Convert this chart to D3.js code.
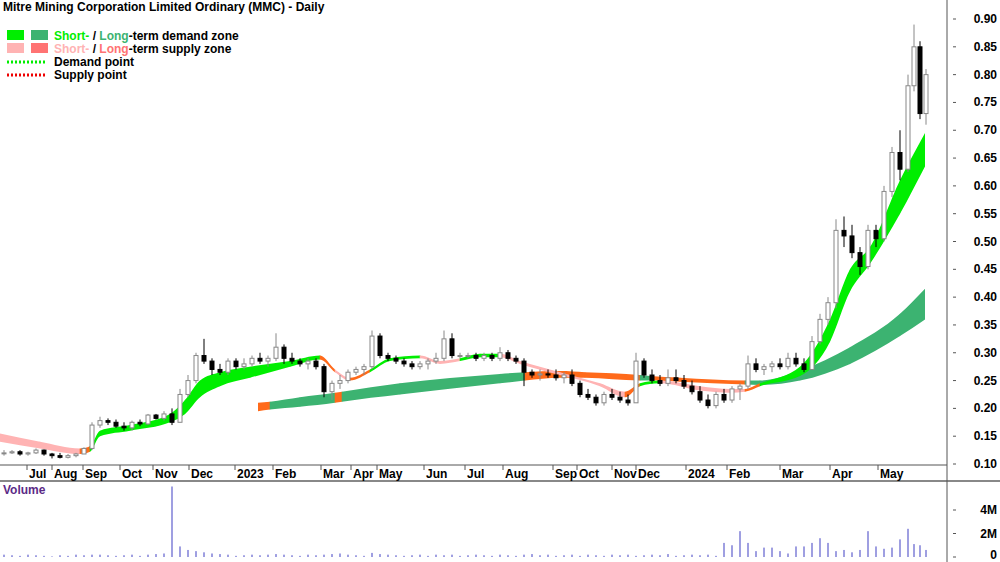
<!DOCTYPE html>
<html>
<head>
<meta charset="utf-8">
<script src="https://cdn.jsdelivr.net/npm/d3@7"></script>
<style>
  body { margin: 0; background: #fff; }
  text { font-family: "Liberation Sans", Arial, sans-serif; font-weight: bold; font-size: 12px; }
</style>
</head>
<body>
<div id="chart"></div>
<script>
// bar index (t) -> one unit is roughly one trading day
const barT = [2,6,10,14,18,22,26,30,34,38,42,46,50,54,58,62,66,70,74,78,82,86,90,94,98,102,106,110,114,118,122,126,130,134,138,142,146,150,154,158,162,166,170,174,178,182,186,190,194,198,202,206,210,214,218,222,226,230,234,238,242,246,250,254,258,262,266,270,274,278,282,286,290,294,298,302,306,310,314,318,322,326,330,334,338,342,346,350,354,358,362,366,370,374,378,382,386,390,394,398,402,406,410,414,418,422,426,430,434,438,442,446,450,454,457,460,463];
const barOpen  = [.12,.12,.122,.118,.12,.125,.118,.115,.112,.115,.118,.128,.17,.178,.175,.168,.165,.175,.172,.188,.182,.19,.175,.225,.25,.295,.285,.27,.265,.285,.275,.28,.29,.285,.29,.31,.29,.285,.28,.285,.275,.23,.245,.25,.265,.27,.275,.33,.295,.29,.285,.28,.275,.28,.285,.29,.325,.295,.295,.295,.29,.295,.29,.30,.29,.285,.265,.26,.262,.26,.255,.26,.245,.225,.22,.21,.225,.22,.215,.21,.285,.26,.25,.245,.255,.25,.24,.23,.215,.205,.225,.215,.235,.24,.28,.27,.275,.28,.275,.29,.28,.27,.32,.36,.39,.52,.51,.48,.455,.52,.505,.59,.66,.63,.78,.85,.73];
const barHigh  = [.125,.125,.125,.122,.128,.126,.12,.12,.118,.12,.13,.175,.185,.182,.18,.175,.178,.18,.19,.19,.195,.2,.235,.26,.3,.325,.29,.28,.29,.29,.29,.295,.3,.295,.335,.315,.3,.29,.29,.29,.28,.25,.26,.27,.275,.28,.34,.335,.3,.295,.29,.285,.285,.29,.3,.34,.335,.3,.3,.3,.3,.3,.31,.305,.295,.29,.27,.27,.27,.27,.265,.27,.25,.235,.225,.23,.235,.23,.225,.3,.29,.27,.26,.27,.27,.26,.25,.24,.225,.23,.235,.24,.245,.295,.29,.28,.285,.29,.3,.3,.29,.33,.37,.4,.54,.545,.53,.49,.53,.53,.6,.67,.7,.8,.89,.86,.81];
const barLow   = [.115,.118,.115,.115,.118,.115,.11,.11,.11,.112,.118,.125,.165,.17,.165,.16,.16,.168,.17,.18,.178,.17,.175,.22,.245,.28,.26,.26,.26,.27,.27,.275,.28,.275,.285,.28,.28,.275,.27,.27,.22,.215,.235,.245,.26,.26,.27,.29,.285,.28,.275,.27,.27,.27,.28,.285,.29,.29,.29,.285,.285,.285,.285,.285,.28,.24,.255,.25,.255,.25,.245,.24,.22,.215,.205,.205,.215,.21,.205,.21,.255,.245,.24,.24,.245,.235,.225,.21,.2,.2,.21,.21,.215,.235,.265,.26,.265,.27,.27,.275,.265,.27,.315,.35,.38,.49,.47,.44,.45,.49,.5,.58,.61,.625,.77,.72,.71];
const barClose = [.12,.122,.118,.12,.125,.118,.115,.112,.115,.118,.128,.17,.178,.175,.168,.165,.175,.172,.188,.182,.19,.175,.225,.25,.295,.285,.27,.265,.285,.275,.28,.29,.285,.29,.31,.29,.285,.28,.285,.275,.23,.245,.25,.265,.27,.275,.33,.295,.29,.285,.28,.275,.28,.285,.29,.325,.295,.295,.295,.29,.295,.29,.30,.29,.285,.265,.26,.262,.26,.255,.26,.245,.225,.22,.21,.225,.22,.215,.21,.285,.26,.25,.245,.255,.25,.24,.23,.215,.205,.225,.215,.235,.24,.28,.27,.275,.28,.275,.29,.28,.27,.32,.36,.39,.52,.51,.48,.455,.52,.505,.59,.66,.63,.78,.85,.73,.80];
// volume per bar, millions
const barVolume = [.2,.15,.1,.2,.15,.1,.05,.15,.1,.2,.15,.2,.2,.15,.1,.15,.2,.1,.2,.25,.3,6.0,.9,.6,.5,.4,.3,.25,.2,.1,.15,.2,.15,.2,.25,.2,.15,.1,.2,.15,.2,.25,.3,.2,.15,.1,.35,.25,.2,.15,.1,.15,.2,.1,.2,.15,.2,.1,.15,.2,.15,.1,.2,.15,.1,.2,.25,.15,.2,.1,.15,.2,.1,.2,.15,.1,.2,.15,.2,.1,.15,.2,.15,.25,.1,.15,.2,.15,.2,.1,1.2,1.0,2.2,1.2,.5,.8,.8,.5,.3,.9,.9,1.2,1.6,1.2,.5,.6,.4,.6,2.2,.9,.7,.8,1.5,2.4,1.1,1.0,.6];

const monthLabels = ["Jul","Aug","Sep","Oct","Nov","Dec","2023","Feb","Mar","Apr","May","Jun","Jul","Aug","Sep","Oct","Nov","Dec","2024","Feb","Mar","Apr","May"];
const monthT = [13.5,26,41.5,60,76.5,94.5,117.5,136.5,160.5,175.5,188.5,212,232.5,251.5,276.5,288.5,306,318,343,363.5,390,415,439];

const priceTicks = [0.10,0.15,0.20,0.25,0.30,0.35,0.40,0.45,0.50,0.55,0.60,0.65,0.70,0.75,0.80,0.85,0.90];
const volumeTicks = [0, 2, 4];

// zones: t, upper, lower, segment type (D = demand, S = supply)
const longZoneT     = [129,135,150,167.5,171,200,250,262.5,280,292.5,320,325,340,372.5,380,400,425,450,462.5];
const longZoneUpper = [.21,.212,.22,.228,.23,.245,.262,.265,.267,.265,.26,.258,.255,.25,.25,.268,.31,.37,.415];
const longZoneLower = [.195,.198,.203,.21,.212,.225,.245,.25,.255,.255,.25,.25,.248,.243,.242,.25,.28,.33,.36];
const longZoneType  = ["S","D","D","S","D","D","D","S","S","S","D","S","S","D","D","D","D","D"];

const shortZoneT     = [0,20,40,45,50,65,85,92.5,100,110,125,145,160,167.5,175,185,195,210,220,230,240,250,260,280,300,312.5,320,330,350,365,372.5,380,400,415,425,435,450,462.5];
const shortZoneUpper = [.155,.14,.128,.132,.16,.17,.19,.215,.25,.265,.275,.285,.295,.27,.255,.27,.29,.295,.285,.29,.298,.298,.285,.265,.245,.23,.245,.25,.24,.235,.235,.245,.275,.36,.45,.49,.61,.695];
const shortZoneLower = [.14,.128,.118,.122,.15,.16,.175,.19,.22,.24,.255,.275,.288,.265,.25,.265,.285,.29,.28,.285,.292,.292,.28,.26,.24,.22,.24,.245,.232,.228,.23,.24,.258,.32,.41,.46,.55,.635];
const shortZoneType  = ["s","s","S","D","D","D","D","D","D","D","D","D","S","s","S","D","D","s","s","D","D","s","s","s","s","S","D","s","s","s","S","D","D","D","D","D","D"];

const zoneColor = { D: "#3cb371", S: "#ff6a1a" };
const shortColor = { D: "#00ee00", s: "#ffb3b3", S: "#ff6a1a" };

const W = 1000, H = 562;
const axisX = 947;

const svg = d3.select("#chart").append("svg").attr("width", W).attr("height", H);
const defs = svg.append("defs");

const x = d3.scaleLinear().domain([0, 470]).range([0, 940]);
const y = d3.scaleLinear().domain([0.10, 0.90]).range([464, 19]);
const yv = d3.scaleLinear().domain([0, 4]).range([557, 510]);

// zones: one smooth area, coloured piece by piece through clip rects
let clipId = 0;
function drawZone(ts, up, lo, types, colors) {
    const pts = ts.map((t, j) => ({ t, up: up[j], lo: lo[j] }));
    const area = d3.area().curve(d3.curveMonotoneX)
        .x(d => x(d.t)).y0(d => y(d.lo)).y1(d => y(d.up));
    const d = area(pts);
    types.forEach((type, i) => {
        const id = "zc" + (clipId++);
        defs.append("clipPath").attr("id", id).append("rect")
            .attr("x", x(ts[i]) - 0.3).attr("width", x(ts[i + 1]) - x(ts[i]) + 0.6)
            .attr("y", 0).attr("height", 470);
        svg.append("path").attr("d", d).attr("fill", colors[type])
            .attr("clip-path", `url(#${id})`);
    });
}
drawZone(longZoneT, longZoneUpper, longZoneLower, longZoneType, zoneColor);
drawZone(shortZoneT, shortZoneUpper, shortZoneLower, shortZoneType, shortColor);

// candles
const bars = barT.map((t, i) => ({ t, o: barOpen[i], h: barHigh[i], l: barLow[i], c: barClose[i], v: barVolume[i] }));
const cg = svg.append("g");
cg.selectAll("line.wick").data(bars).enter().append("line")
    .attr("x1", d => x(d.t)).attr("x2", d => x(d.t))
    .attr("y1", d => y(d.h)).attr("y2", d => y(d.l))
    .attr("stroke", d => d.c >= d.o ? "#888" : "#000").attr("stroke-width", 1);
cg.selectAll("rect").data(bars).enter().append("rect")
    .attr("x", d => x(d.t) - 2)
    .attr("width", 4)
    .attr("y", d => y(Math.max(d.o, d.c)))
    .attr("height", d => Math.max(1, Math.abs(y(d.o) - y(d.c))))
    .attr("fill", d => d.c >= d.o ? "#fff" : "#000")
    .attr("stroke", d => d.c >= d.o ? "#888" : "#000").attr("stroke-width", 1);

// volume
svg.selectAll("rect.vol").data(bars).enter().append("rect")
    .attr("class", "vol")
    .attr("x", d => x(d.t) - 0.75).attr("width", 1.5)
    .attr("y", d => yv(d.v)).attr("height", d => yv(0) - yv(d.v))
    .attr("fill", "#8080d8");

// frame lines
svg.append("line").attr("x1", 0).attr("x2", axisX).attr("y1", 465).attr("y2", 465).attr("stroke", "#555");
svg.append("line").attr("x1", 0).attr("x2", W).attr("y1", 481).attr("y2", 481).attr("stroke", "#888").attr("stroke-width", 2);
svg.append("line").attr("x1", axisX).attr("x2", axisX).attr("y1", 0).attr("y2", H).attr("stroke", "#555");

// month axis
const mg = svg.append("g");
monthT.forEach((t, i) => {
    mg.append("line").attr("x1", x(t)).attr("x2", x(t)).attr("y1", 465).attr("y2", 470).attr("stroke", "#555");
    mg.append("text").attr("x", x(t) + 2).attr("y", 478).text(monthLabels[i]);
});

// price axis
priceTicks.forEach(p => {
    svg.append("line").attr("x1", axisX + 6).attr("x2", axisX + 9).attr("y1", y(p)).attr("y2", y(p)).attr("stroke", "#555");
    svg.append("text").attr("x", 997).attr("y", y(p) + 4).attr("text-anchor", "end").text(p.toFixed(2));
});
volumeTicks.forEach(v => {
    svg.append("line").attr("x1", axisX + 6).attr("x2", axisX + 9).attr("y1", yv(v)).attr("y2", yv(v)).attr("stroke", "#555");
    svg.append("text").attr("x", 997).attr("y", Math.min(yv(v) + 4, 559)).attr("text-anchor", "end").text(v === 0 ? "0" : v + "M");
});

// title and legend
svg.append("text").attr("x", 3).attr("y", 11).text("Mitre Mining Corporation Limited Ordinary (MMC) - Daily");
svg.append("text").attr("x", 3).attr("y", 494).attr("fill", "#5b2a86").text("Volume");

const lg = svg.append("g");
lg.append("rect").attr("x", 7).attr("y", 30).attr("width", 17).attr("height", 10).attr("fill", "#00ee00");
lg.append("rect").attr("x", 31).attr("y", 30).attr("width", 17).attr("height", 10).attr("fill", "#3cb371");
lg.append("rect").attr("x", 7).attr("y", 43).attr("width", 17).attr("height", 10).attr("fill", "#ffb3b3");
lg.append("rect").attr("x", 31).attr("y", 43).attr("width", 17).attr("height", 10).attr("fill", "#ff7373");
lg.append("line").attr("x1", 7).attr("x2", 45).attr("y1", 62).attr("y2", 62).attr("stroke", "#00ee00").attr("stroke-width", 3).attr("stroke-dasharray", "2,2");
lg.append("line").attr("x1", 7).attr("x2", 45).attr("y1", 75).attr("y2", 75).attr("stroke", "#ee0000").attr("stroke-width", 3).attr("stroke-dasharray", "2,2");
const t1 = lg.append("text").attr("x", 54).attr("y", 40);
t1.append("tspan").attr("fill", "#00ee00").text("Short-");
t1.append("tspan").text(" / ");
t1.append("tspan").attr("fill", "#3cb371").text("Long");
t1.append("tspan").text("-term demand zone");
const t2 = lg.append("text").attr("x", 54).attr("y", 53);
t2.append("tspan").attr("fill", "#ffb3b3").text("Short-");
t2.append("tspan").text(" / ");
t2.append("tspan").attr("fill", "#ff7373").text("Long");
t2.append("tspan").text("-term supply zone");
lg.append("text").attr("x", 54).attr("y", 66).text("Demand point");
lg.append("text").attr("x", 54).attr("y", 79).text("Supply point");
</script>
</body>
</html>
